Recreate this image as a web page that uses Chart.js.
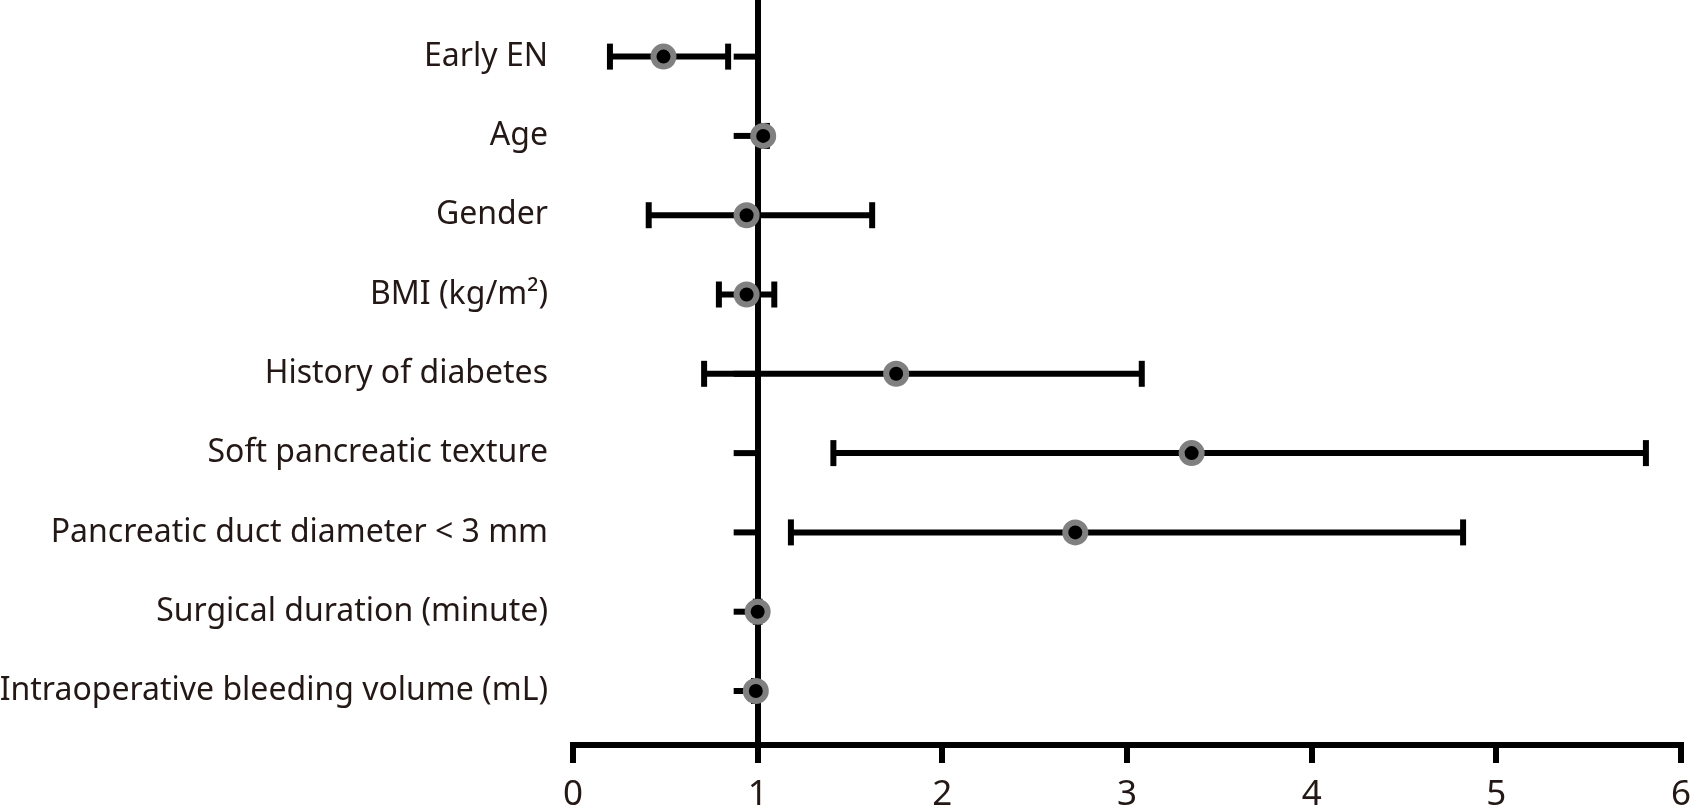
<!DOCTYPE html>
<html>
<head>
<meta charset="utf-8">
<script src="https://cdn.jsdelivr.net/npm/chart.js@4"></script>
<style>
  html, body { margin: 0; padding: 0; background: #fff; }
  #wrap { width: 1701px; height: 812px; position: relative; }
</style>
</head>
<body>
<div id="wrap"><canvas id="forestChart"></canvas></div>
<script>
// ===== Data =====
const categories = [
    'Early EN',
    'Age',
    'Gender',
    'BMI (kg/m²)',
    'History of diabetes',
    'Soft pancreatic texture',
    'Pancreatic duct diameter < 3 mm',
    'Surgical duration (minute)',
    'Intraoperative bleeding volume (mL)'
];
const oddsRatio = [0.49, 1.03, 0.94, 0.94, 1.75, 3.35, 2.72, 1.00, 0.99];
const ciLow     = [0.20, 1.01, 0.41, 0.79, 0.71, 1.41, 1.18, 0.99, 0.98];
const ciHigh    = [0.84, 1.05, 1.62, 1.09, 3.08, 5.81, 4.82, 1.01, 1.00];
const xTicks    = [0, 1, 2, 3, 4, 5, 6];

// rows from top (9) to bottom (1)
const rowY = categories.map((c, i) => categories.length - i);

const textColor = '#231815';
const lineW = 6;
const fontFamily = '"Noto Sans", "Open Sans", sans-serif';

// ===== Datasets =====
const pointSet = {
    type: 'scatter',
    label: 'OR',
    data: oddsRatio.map((v, i) => ({ x: v, y: rowY[i] })),
    pointRadius: 10,
    pointBorderWidth: 6,
    pointBackgroundColor: '#000',
    pointBorderColor: '#808080',
    order: 0
};

const capSet = {
    type: 'scatter',
    label: 'caps',
    data: ciLow.map((v, i) => ({ x: v, y: rowY[i] }))
        .concat(ciHigh.map((v, i) => ({ x: v, y: rowY[i] }))),
    pointStyle: 'line',
    rotation: 90,
    pointRadius: 13,
    pointBorderWidth: lineW,
    pointBorderColor: '#000',
    order: 1
};

const whiskerSets = categories.map((c, i) => ({
    type: 'line',
    label: c,
    data: [{ x: ciLow[i], y: rowY[i] }, { x: ciHigh[i], y: rowY[i] }],
    borderColor: '#000',
    borderWidth: lineW,
    borderCapStyle: 'butt',
    pointRadius: 0,
    fill: false,
    order: 2
}));

// ===== Y axis tick stubs on the reference line at x = 1 =====
const refStubs = {
    id: 'refStubs',
    beforeDatasetsDraw(chart) {
        const { ctx, scales } = chart;
        const x1 = scales.x.getPixelForValue(1);
        ctx.save();
        ctx.strokeStyle = '#000';
        ctx.lineWidth = lineW;
        ctx.lineCap = 'butt';
        rowY.forEach(v => {
            const y = scales.y.getPixelForValue(v);
            ctx.beginPath();
            ctx.moveTo(x1 - 24, y);
            ctx.lineTo(x1, y);
            ctx.stroke();
        });
        ctx.restore();
    }
};

new Chart(document.getElementById('forestChart'), {
    data: { datasets: [pointSet, capSet].concat(whiskerSets) },
    plugins: [refStubs],
    options: {
        responsive: true,
        maintainAspectRatio: false,
        animation: false,
        layout: { autoPadding: false, padding: { top: 0, right: 20, bottom: 0, left: 0 } },
        plugins: {
            legend: { display: false },
            tooltip: { enabled: false }
        },
        scales: {
            x: {
                type: 'linear',
                min: xTicks[0],
                max: xTicks[xTicks.length - 1],
                afterBuildTicks: scale => { scale.ticks = xTicks.map(v => ({ value: v })); },
                afterFit: scale => {
                    scale.height = 67;
                    scale.paddingLeft = 0;
                    scale.paddingRight = 0;
                },
                ticks: {
                    color: textColor,
                    font: { family: fontFamily, size: 35 },
                    padding: 11,
                    maxRotation: 0
                },
                grid: {
                    color: ctx => (ctx.tick && ctx.tick.value === 1) ? '#000' : 'rgba(0,0,0,0)',
                    lineWidth: lineW,
                    drawOnChartArea: true,
                    drawTicks: true,
                    tickLength: 18,
                    tickColor: '#000',
                    tickWidth: lineW
                },
                border: { display: true, color: '#000', width: lineW }
            },
            y: {
                type: 'linear',
                position: 'left',
                min: 0.319,
                max: 9.714,
                afterBuildTicks: scale => { scale.ticks = rowY.map(v => ({ value: v })); },
                afterFit: scale => {
                    scale.width = 573;
                    scale.paddingTop = 0;
                    scale.paddingBottom = 0;
                },
                ticks: {
                    color: textColor,
                    font: { family: fontFamily, size: 32 },
                    padding: 25,
                    callback: v => categories[rowY.indexOf(v)]
                },
                grid: { display: false, drawTicks: false },
                border: { display: false }
            }
        }
    }
});
</script>
</body>
</html>
